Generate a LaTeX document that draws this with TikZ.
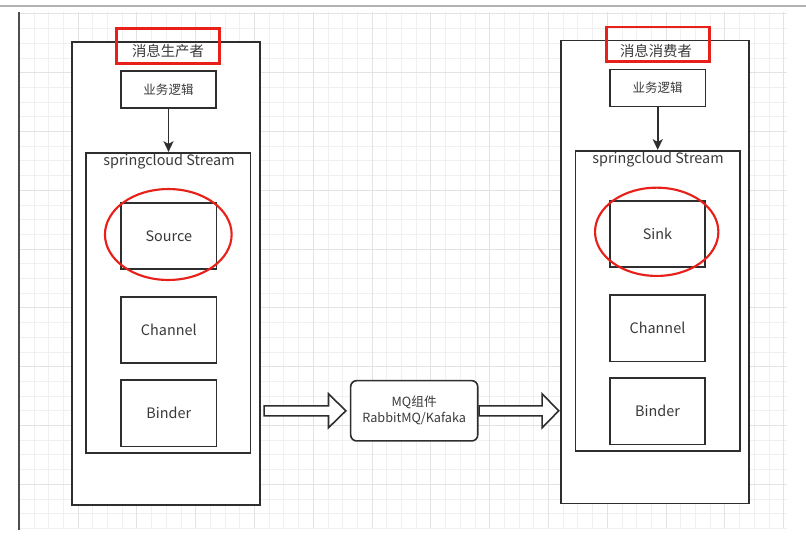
\documentclass[tikz,border=0pt]{standalone}
\usepackage{fontspec}
\setmainfont{Noto Sans CJK SC}
\usetikzlibrary{arrows.meta,calc,shapes.geometric}
\definecolor{linegray}{HTML}{2E2E2E}
\definecolor{textgray}{HTML}{3A3A3A}
\definecolor{markred}{HTML}{E8201A}
\definecolor{gridminor}{HTML}{F0F0F0}
\definecolor{gridmajor}{HTML}{E3E3E3}
\tikzset{
  box/.style={draw=linegray, line width=1.2pt, fill=white, inner sep=0pt, text=textgray},
  container/.style={box, minimum width=141pt, minimum height=347pt},
  stream/.style={box, minimum width=123.5pt, minimum height=225pt},
  biz/.style={box, minimum width=71.4pt, minimum height=27.9pt, font=\fontsize{9.4}{11}\selectfont},
  part/.style={box, minimum width=71.6pt, minimum height=49.7pt, font=\fontsize{10.8}{12}\selectfont},
  mqbox/.style={box, rounded corners=4.5pt, minimum width=95.3pt, minimum height=45.2pt, align=center, font=\fontsize{9.5}{12}\selectfont},
  caption/.style={inner sep=0pt, text=textgray, font=\fontsize{10.8}{12}\selectfont},
  redframe/.style={draw=markred, line width=2pt, inner sep=0pt, minimum width=77pt, minimum height=25.9pt},
  ring/.style={draw=markred, line width=1.6pt, ellipse, inner sep=0pt},
  flow/.style={draw=linegray, line width=1.2pt, -{Stealth[length=8pt, width=7.5pt, inset=2pt]}},
  fatarrow/.style={draw=linegray, line width=1.2pt, fill=white, line join=miter},
}
\begin{document}
\begin{tikzpicture}[x=0.75pt, y=-0.75pt]
\useasboundingbox (0,0) rectangle (806,539);
% drawing sheet
\foreach \k [evaluate=\k as \gx using 19.3+14.7*\k] in {0,...,52}
  \draw[gridminor, line width=0.7pt] (\gx,12) -- (\gx,528);
\foreach \k [evaluate=\k as \gy using 13.9+14.7*\k] in {0,...,35}
  \draw[gridminor, line width=0.7pt] (19,\gy) -- (787,\gy);
\foreach \k [evaluate=\k as \gx using 19.3+58.8*\k] in {0,...,13}
  \draw[gridmajor, line width=0.8pt] (\gx,12) -- (\gx,528);
\foreach \k [evaluate=\k as \gy using 13.9+58.8*\k] in {0,...,8}
  \draw[gridmajor, line width=0.8pt] (19,\gy) -- (787,\gy);
\draw[gray!60, line width=1.2pt] (0,6) -- (806,6);
\draw[linegray!85, line width=1pt] (19,12) -- (19,530);

% producer
\node[container] (lout) at (166,273.5) {};
\node[caption] (ltitle) at (168,51.5) {消息生产者};
\node[biz] (lbiz) at (168.5,89.5) {业务逻辑};
\node[stream] (lstream) at (168.3,302.7) {};
\node[caption] (lstreamlab) at (169,161.7) {springcloud Stream};
\node[part] (lsource) at (168.8,236) {Source};
\node[part] (lchannel) at (168.8,330) {Channel};
\node[part] (lbinder) at (168.8,413.3) {Binder};
\node[ring, minimum width=95pt, minimum height=68.2pt] (lring) at (168.3,234.5) {};
\node[redframe] (lmark) at (167.9,45.9) {};
\draw[flow] (lbiz.south) -- (lbiz.south |- lstream.north);

% consumer
\node[container] (rout) at (655.2,272) {};
\node[caption] (rtitle) at (656,50.5) {消息消费者};
\node[biz] (rbiz) at (657.7,88) {业务逻辑};
\node[stream] (rstream) at (657.7,300.7) {};
\node[caption] (rstreamlab) at (658,159.5) {springcloud Stream};
\node[part] (rsink) at (657.5,234) {Sink};
\node[part] (rchannel) at (657.5,328.3) {Channel};
\node[part] (rbinder) at (657.5,411.3) {Binder};
\node[ring, minimum width=92.5pt, minimum height=66.2pt] (rring) at (656.7,231.8) {};
\node[redframe] (rmark) at (658,44.2) {};
\draw[flow] (rbiz.south) -- (rbiz.south |- rstream.north);

% broker
\node[mqbox] (mq) at (414.2,410.8) {MQ组件\\RabbitMQ/Kafaka};
\draw[fatarrow] ($(lout.east |- mq)+(3.3,-5)$) -| ($(mq.west)+(-21.4,-17)$)
  -- ($(mq.west)+(-4,0)$) -- ($(mq.west)+(-21.4,17)$) |- ($(lout.east |- mq)+(3.3,5)$) -- cycle;
\draw[fatarrow] ($(mq.east)+(0.6,-5)$) -| ($(rout.west |- mq)+(-18.3,-17)$)
  -- ($(rout.west |- mq)+(-1.7,0)$) -- ($(rout.west |- mq)+(-18.3,17)$) |- ($(mq.east)+(0.6,5)$) -- cycle;
\end{tikzpicture}
\end{document}
